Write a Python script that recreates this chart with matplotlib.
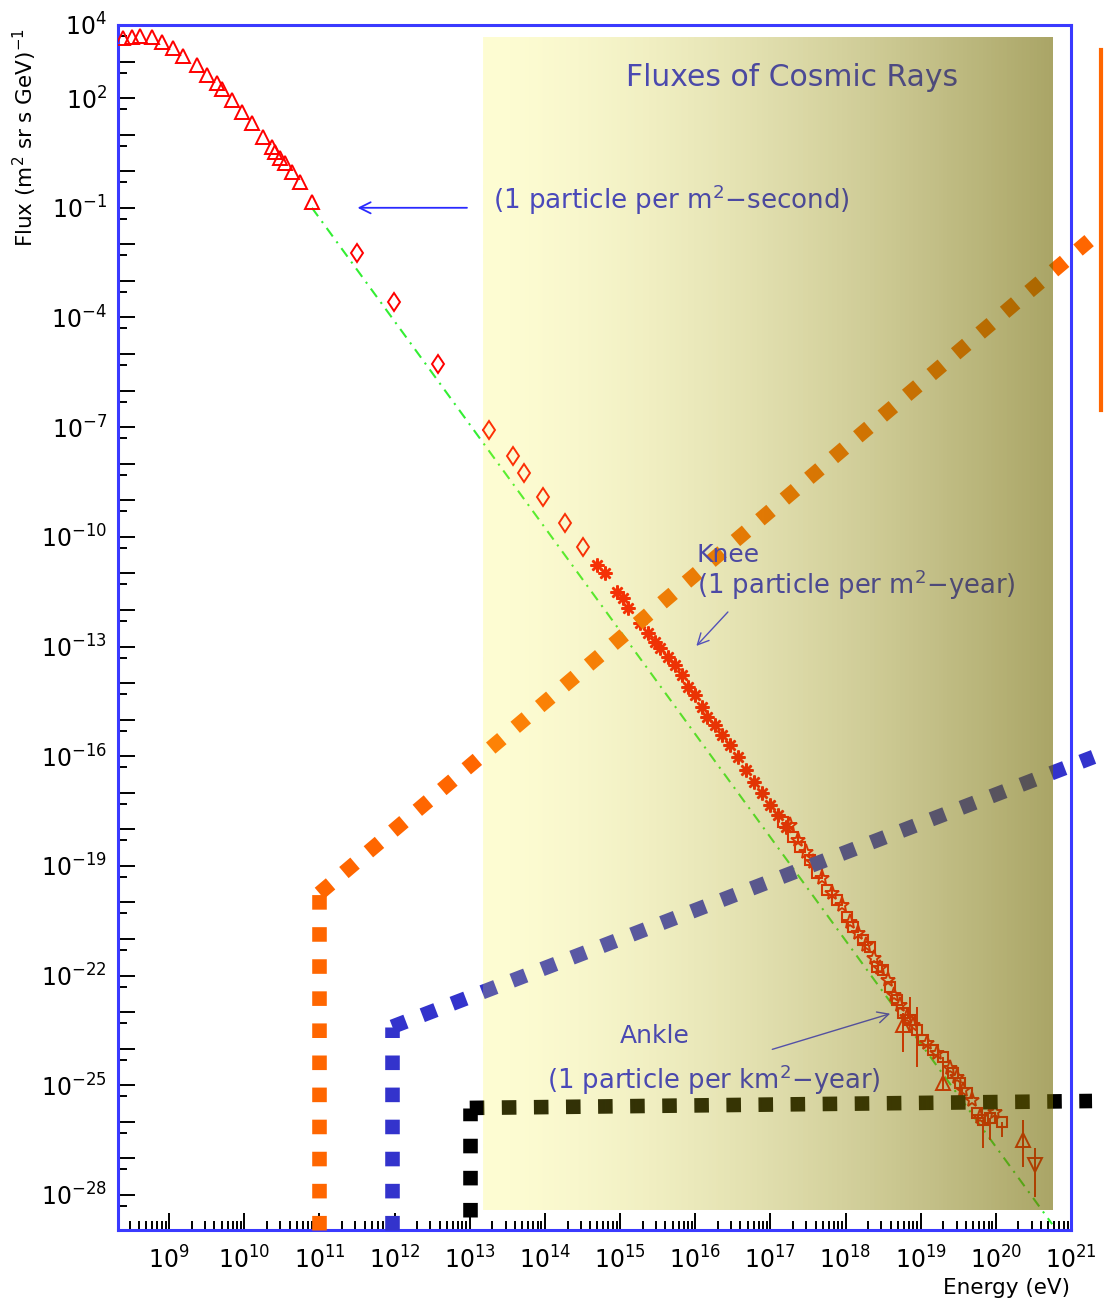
"""
Cosmic ray flux spectrum (log-log) with highlighted energy thresholds.
"""

import numpy as np
import matplotlib.pyplot as plt
from matplotlib.lines import Line2D

plt.rcParams['font.family'] = ['DejaVu Sans']
plt.rcParams['mathtext.fontset'] = 'dejavusans'

# ---- data, stored as log10 values ----
tri_logE = [8.39, 8.51, 8.61, 8.77, 8.91, 9.05, 9.19, 9.37, 9.50, 9.64, 9.70,
            9.84, 9.97, 10.10, 10.25, 10.37, 10.41, 10.48, 10.54, 10.64, 10.74, 10.90]
tri_logF = [3.64, 3.67, 3.70, 3.67, 3.54, 3.37, 3.15, 2.91, 2.63, 2.41, 2.25,
            1.95, 1.62, 1.32, 0.94, 0.66, 0.53, 0.36, 0.23, -0.02, -0.30, -0.84]

dia_logE = [11.50, 11.99, 12.58, 13.26, 13.58, 13.72, 13.97, 14.27, 14.51]
dia_logF = [-2.24, -3.58, -5.27, -7.08, -7.79, -8.25, -8.91, -9.62, -10.28]

ast_logE = [14.69, 14.80, 14.96, 15.04, 15.10, 15.26, 15.37, 15.46, 15.53, 15.64,
            15.73, 15.82, 15.90, 16.00, 16.09, 16.16, 16.26, 16.36, 16.46, 16.57,
            16.67, 16.78, 16.89, 16.99, 17.10, 17.21]
ast_logF = [-10.77, -10.99, -11.51, -11.67, -11.95, -12.36, -12.63, -12.88, -13.04, -13.29,
            -13.51, -13.78, -14.11, -14.33, -14.65, -14.93, -15.15, -15.42, -15.69, -16.02,
            -16.38, -16.71, -17.01, -17.34, -17.61, -17.94]

uhe_logE = [17.17, 17.30, 17.39, 17.53, 17.62, 17.75, 17.89, 18.02, 18.10, 18.23,
            18.32, 18.42, 18.50, 18.59, 18.68, 18.76, 18.86, 18.95, 19.03, 19.16,
            19.30, 19.43, 19.52, 19.61, 19.75, 19.83, 19.92, 20.08]
uhe_logF = [-17.80, -18.21, -18.48, -18.84, -19.19, -19.66, -19.93, -20.40, -20.67, -21.03,
            -21.22, -21.77, -21.85, -22.31, -22.67, -23.02, -23.22, -23.49, -23.76, -24.04,
            -24.23, -24.66, -24.94, -25.21, -25.76, -25.95, -25.90, -26.01]
uhe_err_lo = [0, 0, 0, 0, 0, 0, 0, 0, 0, 0,
              0, 0, 0, 0, 0, 1.07, 0, 1.00, 0, 0,
              0, 0, 0.45, 0, 0, 0.77, 0.60, 0.40]
uhe_err_hi = [0, 0, 0, 0, 0, 0, 0, 0, 0, 0,
              0, 0, 0, 0, 0, 0, 0.63, 0.63, 0, 0,
              0, 0, 0, 0, 0, 0, 0, 0]

uhe2_logE = [17.26, 17.37, 17.47, 17.57, 17.69, 17.82, 17.95, 18.06, 18.16, 18.27,
             18.38, 18.46, 18.56, 18.64, 18.72, 18.82, 18.90, 19.08, 19.22, 19.39,
             19.48, 19.56, 19.68, 19.79, 19.99]
uhe2_logF = [-17.88, -18.29, -18.62, -18.89, -19.33, -19.74, -20.07, -20.53, -20.84, -21.16,
             -21.52, -21.79, -22.12, -22.53, -22.81, -23.13, -23.35, -23.84, -24.12, -24.53,
             -24.77, -25.13, -25.40, -25.87, -25.73]

up_logE = [18.76, 19.30, 20.36]
up_logF = [-23.35, -24.94, -26.50]
up_err_lo = [0.75, 0.20, 0.74]
up_err_hi = [0.00, 0.70, 0.55]

down_logE = [20.52]
down_logF = [-27.18]
down_err_lo = [0.88]
down_err_hi = [0.46]

fit_logE = [10.90, 20.75]
fit_logF = [-1.00, -28.80]

orange_logE = [11.00, 11.00, 21.28]
orange_logF = [-28.96, -19.75, -1.83]
blue_logE = [11.97, 11.97, 21.30]
blue_logF = [-28.96, -23.40, -16.02]
black_logE = [13.00, 13.00, 21.28]
black_logF = [-28.60, -25.62, -25.43]

xtick_exp = list(range(9, 22))
ytick_exp = [4, 2, -1, -4, -7, -10, -13, -16, -19, -22, -25, -28]


def p10(v):
    return 10.0 ** np.asarray(v, dtype=float)


def yerr_from_logs(logf, lo, hi):
    f = p10(logf)
    return [f - p10(np.asarray(logf) - np.asarray(lo)), p10(np.asarray(logf) + np.asarray(hi)) - f]


fig = plt.figure(figsize=(11.04, 13.08), dpi=100)
ax = fig.add_axes([0.1069, 0.0596, 0.8632, 0.9213])
ax.set_xscale('log')
ax.set_yscale('log')

red = '#ff0000'

# fitted power law
ax.plot(p10(fit_logE), p10(fit_logF), color='#33ee33', lw=1.5,
        linestyle=(0, (5, 3, 1, 3)), zorder=2)

# measurements
ax.plot(p10(tri_logE), p10(tri_logF), linestyle='none', marker='^', ms=10,
        mfc='none', mec=red, mew=1.4, zorder=3)
ax.plot(p10(dia_logE), p10(dia_logF), linestyle='none', marker='d', ms=9.5,
        mfc='none', mec=red, mew=1.4, zorder=3)
ax.plot(p10(ast_logE), p10(ast_logF), linestyle='none', marker=(8, 2, 0), ms=10,
        mec=red, mew=1.8, zorder=3)
ax.errorbar(p10(uhe_logE), p10(uhe_logF), yerr=yerr_from_logs(uhe_logF, uhe_err_lo, uhe_err_hi),
            fmt='s', ms=7.5, mfc='none', mec=red, mew=1.5, ecolor=red, elinewidth=1.4, zorder=3)
ax.plot(p10(uhe2_logE), p10(uhe2_logF), linestyle='none', marker='*', ms=11,
        mfc='none', mec=red, mew=1.4, zorder=3)
ax.errorbar(p10(up_logE), p10(up_logF), yerr=yerr_from_logs(up_logF, up_err_lo, up_err_hi),
            fmt='^', ms=10, mfc='none', mec=red, mew=1.4, ecolor=red, elinewidth=1.4, zorder=3)
ax.errorbar(p10(down_logE), p10(down_logF), yerr=yerr_from_logs(down_logF, down_err_lo, down_err_hi),
            fmt='v', ms=10, mfc='none', mec=red, mew=1.4, ecolor=red, elinewidth=1.4, zorder=3)

# threshold overlays (thick square dots, running past the frame)
for xs, ys, col in [(orange_logE, orange_logF, '#ff6600'),
                    (blue_logE, blue_logF, '#3333cc'),
                    (black_logE, black_logF, '#000000')]:
    for seg in (slice(0, 2), slice(1, 3)):
        ax.plot(p10(xs[seg]), p10(ys[seg]), color=col, lw=10.5, linestyle=(0, (1, 1.2)),
                dash_capstyle='butt', clip_on=False, zorder=4)

# annotations
txt_col = '#1f1fe6'
ax.text(p10(17.29), p10(2.55), 'Fluxes of Cosmic Rays', color=txt_col, fontsize=21.5,
        ha='center', va='center', zorder=4)
ax.text(p10(13.31), p10(-0.79), '(1 particle per m$^2$\u2212second)', color=txt_col,
        fontsize=18.8, ha='left', va='center', zorder=4)
ax.text(p10(16.02), p10(-10.5), 'Knee', color=txt_col, fontsize=18,
        ha='left', va='center', zorder=4)
ax.text(p10(16.02), p10(-11.32), '(1 particle per m$^2$\u2212year)', color=txt_col,
        fontsize=18.6, ha='left', va='center', zorder=4)
ax.text(p10(15.0), p10(-23.65), 'Ankle', color=txt_col, fontsize=18,
        ha='left', va='center', zorder=4)
ax.text(p10(14.03), p10(-24.86), '(1 particle per km$^2$\u2212year)', color=txt_col,
        fontsize=18.6, ha='left', va='center', zorder=4)

arrow = dict(arrowstyle='->', color='#2a2aff', lw=1.3, mutation_scale=20)
ax.annotate('', xy=(p10(11.47), p10(-1.0)), xytext=(p10(13.0), p10(-1.0)),
            arrowprops=arrow, zorder=4)
ax.annotate('', xy=(p10(15.99), p10(-13.04)), xytext=(p10(16.46), p10(-12.0)),
            arrowprops=dict(arrow, lw=1.0), zorder=4)
ax.annotate('', xy=(p10(18.63), p10(-23.02)), xytext=(p10(16.99), p10(-24.04)),
            arrowprops=dict(arrow, lw=1.0), zorder=4)

# axes ranges, ticks, frame
ax.set_xlim(p10(8.32), p10(21.0))
ax.set_ylim(p10(-28.96), p10(4.0))

ax.set_xticks(p10(xtick_exp))
ax.set_xticklabels([f'$10^{{{e}}}$' for e in xtick_exp], fontsize=17)
ax.set_xticks([k * 10.0 ** e for e in range(8, 21) for k in range(2, 10)
               if 10 ** 8.32 < k * 10.0 ** e < 10 ** 21], minor=True)
ax.set_xticklabels([], minor=True)

y_major = list(range(-28, 5))
ax.set_yticks(p10(y_major))
ax.set_yticklabels([f'$10^{{{e}}}$' if e in ytick_exp else '' for e in y_major], fontsize=17)
ax.set_yticks([5 * 10.0 ** e for e in range(-29, 4)], minor=True)
ax.set_yticklabels([], minor=True)

ax.tick_params(axis='both', which='both', direction='in', color='black', width=1.4,
               top=False, right=False)
ax.tick_params(axis='both', which='major', length=12)
ax.tick_params(axis='both', which='minor', length=6.5)
ax.tick_params(axis='x', which='major', pad=12)
ax.tick_params(axis='y', which='major', pad=8)
for s in ax.spines.values():
    s.set_color('#3a3aff')
    s.set_linewidth(2.2)

# semi-transparent colour band laid over the high-energy part
t = np.linspace(0, 1, 512) ** 1.5
c_left, a_left = np.array([250, 245, 35]) / 255, 0.20
c_right, a_right = np.array([113, 105, 0]) / 255, 0.60
alpha = (1 - t) * a_left + t * a_right
premult = (1 - t)[:, None] * (a_left * c_left) + t[:, None] * (a_right * c_right)
band = np.zeros((1, t.size, 4))
band[0, :, :3] = premult / alpha[:, None]
band[0, :, 3] = alpha
ax_band = fig.add_axes([0.4375, 0.0749, 0.5154, 0.8968])
ax_band.imshow(band, aspect='auto', interpolation='bilinear')
ax_band.set_axis_off()
ax_band.patch.set_visible(False)
ax_band.set_zorder(ax.get_zorder() + 1)

# axis titles
fig.text(25 / 1104, 1 - 28 / 1308, 'Flux (m$^2$ sr s GeV)$^{-1}$', rotation=90,
         ha='center', va='top', fontsize=15.5)
fig.text(1070 / 1104, 1 - 1288 / 1308, 'Energy (eV)', ha='right', va='center', fontsize=15.5)

# partial orange bar at the right page edge
fig.add_artist(Line2D([1101 / 1104, 1101 / 1104], [1 - 50 / 1308, 1 - 410 / 1308],
                      color='#ff6600', lw=3))

plt.savefig('out.png', dpi=100)
plt.close()
